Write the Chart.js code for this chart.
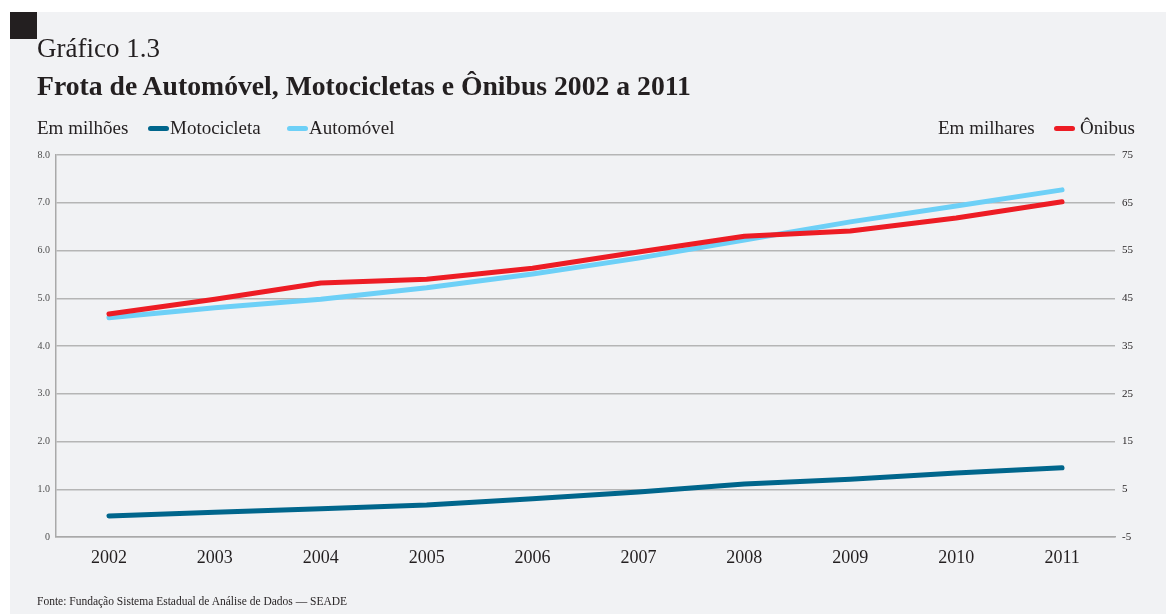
<!DOCTYPE html>
<html>
<head>
<meta charset="utf-8">
<script src="https://cdn.jsdelivr.net/npm/chart.js@4"></script>
<style>
  html, body { margin: 0; padding: 0; background: #ffffff; }
  #page { position: absolute; left: 10px; top: 12px; width: 1156px; height: 602px; background: #f1f2f4; }
  #box { position: absolute; left: 10px; top: 12px; width: 27px; height: 27px; background: #231f20; }
  #wrap { position: absolute; left: 0; top: 0; width: 1166px; height: 614px; }
  .t { position: absolute; font-family: "Liberation Serif", "Times New Roman", serif; color: #231f20; line-height: 1; white-space: nowrap; }
  .leg { top: 118px; font-size: 19px; }
  .sw { position: absolute; top: 126px; width: 21px; height: 5px; border-radius: 3px; }
</style>
</head>
<body>
<div id="page"></div>
<div id="box"></div>
<div id="wrap"><canvas id="grafico"></canvas></div>

<div class="t" style="left:37px; top:35px; font-size:27px;">Gráfico 1.3</div>
<div class="t" style="left:37px; top:72px; font-size:27.7px; font-weight:bold;">Frota de Automóvel, Motocicletas e Ônibus 2002 a 2011</div>

<div class="t leg" style="left:37px;">Em milhões</div>
<div class="sw" style="left:148px; background:#00668c"></div>
<div class="t leg" style="left:170px;">Motocicleta</div>
<div class="sw" style="left:287px; background:#6dd0f7"></div>
<div class="t leg" style="left:309px;">Automóvel</div>

<div class="t leg" style="left:938px;">Em milhares</div>
<div class="sw" style="left:1054px; background:#ed1c24"></div>
<div class="t leg" style="left:1080px;">Ônibus</div>

<div class="t" style="left:37px; top:596px; font-size:11.5px;">Fonte: Fundação Sistema Estadual de Análise de Dados — SEADE</div>

<script>
const anos = ['2002','2003','2004','2005','2006','2007','2008','2009','2010','2011'];

// milhões de veículos (eixo esquerdo)
const motocicleta = [0.44, 0.52, 0.59, 0.67, 0.80, 0.94, 1.11, 1.21, 1.34, 1.45];
const automovel = [4.59, 4.80, 4.98, 5.22, 5.51, 5.84, 6.22, 6.60, 6.93, 7.27];

// milhares de ônibus (eixo direito)
const onibus = [41.7, 44.8, 48.2, 49.0, 51.3, 54.7, 58.0, 59.1, 61.8, 65.2];

const ticksEsq = [0, 1, 2, 3, 4, 5, 6, 7, 8];
const ticksDir = [-5, 5, 15, 25, 35, 45, 55, 65, 75];

const serif = '"Liberation Serif", "Times New Roman", serif';

const ctx = document.getElementById('grafico');

new Chart(ctx, {
    type: 'line',
    data: {
        labels: anos,
        datasets: [
            { label: 'Ônibus', data: onibus, yAxisID: 'y1', borderColor: '#ed1c24', order: 0 },
            { label: 'Automóvel', data: automovel, yAxisID: 'y', borderColor: '#6dd0f7', order: 1 },
            { label: 'Motocicleta', data: motocicleta, yAxisID: 'y', borderColor: '#00668c', order: 2 }
        ]
    },
    options: {
        responsive: true,
        maintainAspectRatio: false,
        animation: false,
        layout: { padding: { top: 155, left: 0, right: 0, bottom: 0 } },
        elements: {
            line: { borderWidth: 5, tension: 0, borderCapStyle: 'round', borderJoinStyle: 'round' },
            point: { radius: 0, hoverRadius: 0 }
        },
        plugins: {
            legend: { display: false },
            tooltip: { enabled: false }
        },
        scales: {
            x: {
                offset: true,
                grid: { display: false },
                border: { display: true, color: '#a9a9a9', width: 1.5 },
                ticks: { color: '#231f20', padding: 2, font: { family: serif, size: 18 } },
                afterFit: s => { s.height = 77; }
            },
            y: {
                position: 'left',
                min: 0,
                max: 8,
                afterBuildTicks: s => { s.ticks = ticksEsq.map(v => ({ value: v })); },
                ticks: {
                    color: '#4d4d4d',
                    padding: 6,
                    font: { family: serif, size: 10 },
                    callback: v => v === 0 ? '0' : v.toFixed(1)
                },
                grid: { color: '#b5b5b5', lineWidth: 1.5, drawTicks: false },
                border: { display: true, color: '#a9a9a9', width: 1.5 },
                afterFit: s => { s.width = 56; }
            },
            y1: {
                position: 'right',
                min: -5,
                max: 75,
                afterBuildTicks: s => { s.ticks = ticksDir.map(v => ({ value: v })); },
                ticks: { color: '#231f20', padding: 7, font: { family: serif, size: 11 } },
                grid: { display: false, drawTicks: false },
                border: { display: false },
                afterFit: s => { s.width = 51; }
            }
        }
    }
});
</script>
</body>
</html>
